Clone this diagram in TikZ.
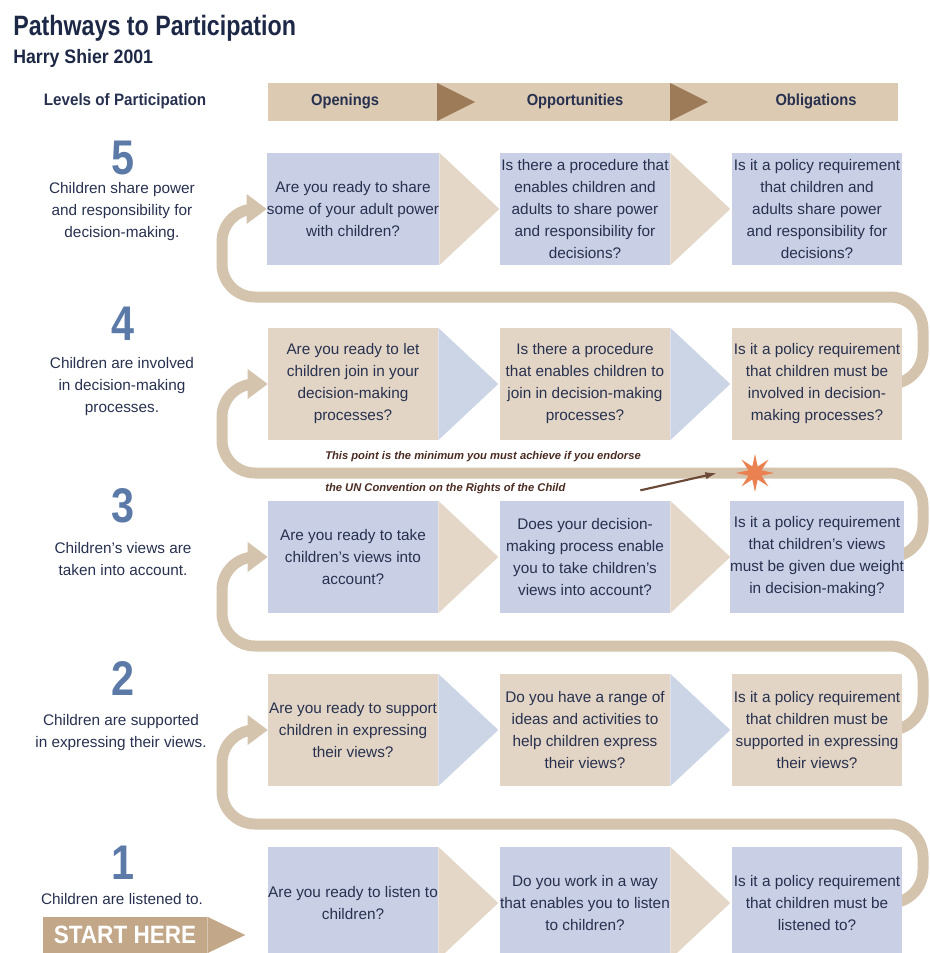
\documentclass[tikz,border=0pt]{standalone}
\usepackage{fontspec}
\setmainfont{Liberation Sans}
\newfontfamily\titlefont[FakeStretch=0.83]{Liberation Sans}
\newfontfamily\subfont[FakeStretch=0.91]{Liberation Sans}
\newfontfamily\hdrfont[FakeStretch=0.92]{Liberation Sans}
\newfontfamily\numfont[FakeStretch=0.85]{Liberation Sans}
\newfontfamily\startfont[FakeStretch=0.9]{Liberation Sans}
\usetikzlibrary{calc,shapes.geometric,arrows.meta}
\pgfdeclarelayer{bg}
\pgfsetlayers{bg,main}
\definecolor{txtcol}{HTML}{27314F}
\definecolor{titlecol}{HTML}{1D2846}
\definecolor{numcol}{HTML}{5B7AA8}
\definecolor{boxblue}{HTML}{C9CFE4}
\definecolor{boxtan}{HTML}{E2D5C5}
\definecolor{arrtan}{HTML}{E4D7C8}
\definecolor{arrblue}{HTML}{CBD5E5}
\definecolor{pathcol}{HTML}{D4C4AE}
\definecolor{bandcol}{HTML}{DCCAB3}
\definecolor{banddark}{HTML}{9D7B58}
\definecolor{startcol}{HTML}{C2A788}
\definecolor{starcol}{HTML}{EA8150}
\definecolor{notecol}{HTML}{4A2B22}
\definecolor{notearr}{HTML}{6A4A37}
\begin{document}
\begin{tikzpicture}[x=0.75pt,y=-0.75pt,
  qbox/.style={minimum width=127.5pt, minimum height=84pt, inner sep=0pt, align=center,
    font=\fontsize{11.5pt}{16.5pt}\selectfont, text=txtcol},
  bluebox/.style={qbox, fill=boxblue},
  tanbox/.style={qbox, fill=boxtan},
  desc/.style={align=center, inner sep=0pt, font=\fontsize{11.5pt}{16.5pt}\selectfont, text=txtcol},
  num/.style={inner sep=0pt, font=\numfont\bfseries\fontsize{36.5pt}{40pt}\selectfont, text=numcol},
  hdr/.style={inner sep=0pt, font=\hdrfont\bfseries\fontsize{12pt}{14pt}\selectfont, text=txtcol},
  snake/.style={draw=pathcol, line width=8.25pt, rounded corners=24.75pt},
  shead/.style={fill=pathcol},
  note/.style={anchor=west, inner sep=0pt, font=\bfseries\itshape\fontsize{8.4pt}{10pt}\selectfont, text=notecol}
]
\useasboundingbox (0,0) rectangle (930,953);
\clip (0,0) rectangle (930,953);

% title
\node[anchor=base west, inner sep=0pt, font=\titlefont\bfseries\fontsize{21pt}{24pt}\selectfont, text=titlecol] (title) at (13,35) {Pathways to Participation};
\node[anchor=base west, inner sep=0pt, font=\subfont\bfseries\fontsize{14.6pt}{17pt}\selectfont, text=titlecol] (subtitle) at (13,63) {Harry Shier 2001};

% header
\node[hdr, font=\hdrfont\bfseries\fontsize{12.4pt}{14pt}\selectfont] (levels) at (125,101) {Levels of Participation};
\node[fill=bandcol, minimum width=472.5pt, minimum height=28.5pt, inner sep=0pt] (band) at (583,102) {};
\fill[banddark] (437,83) -- (475,102) -- (437,121) -- cycle;
\fill[banddark] (670,83) -- (708,102) -- (670,121) -- cycle;
\node[hdr] (h1) at (345,101) {Openings};
\node[hdr] (h2) at (575,101) {Opportunities};
\node[hdr] (h3) at (816,101) {Obligations};

% levels column
\node[num] (n5) at (123,158) {5};
\node[desc] (d5) at (122,212) {Children share power\\and responsibility for\\decision-making.};
\node[num] (n4) at (123,324) {4};
\node[desc] (d4) at (122,387) {Children are involved\\in decision-making\\processes.};
\node[num] (n3) at (123,506) {3};
\node[desc] (d3) at (123,559) {Children’s views are\\taken into account.};
\node[num] (n2) at (123,679) {2};
\node[desc] (d2) at (121,733) {Children are supported\\in expressing their views.};
\node[num] (n1) at (123,863) {1};
\node[desc] (d1) at (122,899) {Children are listened to.};

% row 5
\node[bluebox] (r5c1) at (353,209) {Are you ready to share\\some of your adult power\\with children?};
\node[bluebox] (r5c2) at (585,209) {Is there a procedure that\\enables children and\\adults to share power\\and responsibility for\\decisions?};
\node[bluebox] (r5c3) at (817,209) {Is it a policy requirement\\that children and\\adults share power\\and responsibility for\\decisions?};
% row 4
\node[tanbox] (r4c1) at (353,384) {Are you ready to let\\children join in your\\decision-making\\processes?};
\node[tanbox] (r4c2) at (585,384) {Is there a procedure\\that enables children to\\join in decision-making\\processes?};
\node[tanbox] (r4c3) at (817,384) {Is it a policy requirement\\that children must be\\involved in decision-\\making processes?};
% row 3
\node[bluebox] (r3c1) at (353,557) {Are you ready to take\\children’s views into\\account?};
\node[bluebox] (r3c2) at (585,557) {Does your decision-\\making process enable\\you to take children’s\\views into account?};
\node[bluebox] (r3c3) at (817,557) {Is it a policy requirement\\that children’s views\\must be given due weight\\in decision-making?};
% row 2
\node[tanbox] (r2c1) at (353,730) {Are you ready to support\\children in expressing\\their views?};
\node[tanbox] (r2c2) at (585,730) {Do you have a range of\\ideas and activities to\\help children express\\their views?};
\node[tanbox] (r2c3) at (817,730) {Is it a policy requirement\\that children must be\\supported in expressing\\their views?};
% row 1
\node[bluebox] (r1c1) at (353,903) {Are you ready to listen to\\children?};
\node[bluebox] (r1c2) at (585,903) {Do you work in a way\\that enables you to listen\\to children?};
\node[bluebox] (r1c3) at (817,903) {Is it a policy requirement\\that children must be\\listened to?};

% arrows between boxes
\foreach \r/\c in {5/arrtan,4/arrblue,3/arrtan,2/arrblue,1/arrtan}{
  \foreach \k in {1,2}{
    \fill[\c] (r\r c\k.north east) -- ($(r\r c\k.east)+(60,0)$) -- (r\r c\k.south east) -- cycle;
  }
}

% start here
\node[fill=startcol, minimum width=123pt, minimum height=27pt, inner sep=0pt,
  font=\startfont\bfseries\fontsize{18.8pt}{20pt}\selectfont, text=white] (start) at (125,935) {START HERE};
\fill[startcol] (start.north east) -- ($(start.east)+(38,0)$) -- (start.south east) -- cycle;

% serpentine path
\coordinate (R) at (923,0);
\coordinate (L) at (222,0);
\coordinate (g1) at (0,824);
\coordinate (g2) at (0,646);
\coordinate (g3) at (0,473);
\coordinate (g4) at (0,297);
\begin{pgfonlayer}{bg}
\draw[snake] ([xshift=-30pt]r1c3.east) -- (R |- r1c3.east) -- (R |- g1) -- (L |- g1) -- (L |- r2c1.west) -- ([xshift=-8pt]r2c1.west);
\fill[shead] (r2c1.west) -- ++(-20,-15) -- ++(0,30) -- cycle;
\draw[snake] ([xshift=-30pt]r2c3.east) -- (R |- r2c3.east) -- (R |- g2) -- (L |- g2) -- (L |- r3c1.west) -- ([xshift=-8pt]r3c1.west);
\fill[shead] (r3c1.west) -- ++(-20,-15) -- ++(0,30) -- cycle;
\draw[snake] ([xshift=-30pt]r3c3.east) -- (R |- r3c3.east) -- (R |- g3) -- (L |- g3) -- (L |- r4c1.west) -- ([xshift=-8pt]r4c1.west);
\fill[shead] (r4c1.west) -- ++(-20,-15) -- ++(0,30) -- cycle;
\draw[snake] ([xshift=-30pt]r4c3.east) -- (R |- r4c3.east) -- (R |- g4) -- (L |- g4) -- (L |- r5c1.west) -- ([xshift=-8pt]r5c1.west);
\fill[shead] (r5c1.west) -- ++(-20,-15) -- ++(0,30) -- cycle;
\end{pgfonlayer}

% UN note
\node[note] (note1) at (325,457) {This point is the minimum you must achieve if you endorse};
\node[note] (note2) at (325,489) {the UN Convention on the Rights of the Child};
\node[star, star points=8, star point ratio=2.7, minimum size=28.5pt, inner sep=0pt, fill=starcol] (star) at (755,473) {};
\draw[notearr, line width=1.6pt, -{Latex[length=9pt,width=5.5pt]}] ([xshift=56pt,yshift=-1pt]note2.east) -- ([xshift=-13pt]star.west);
\end{tikzpicture}
\end{document}
